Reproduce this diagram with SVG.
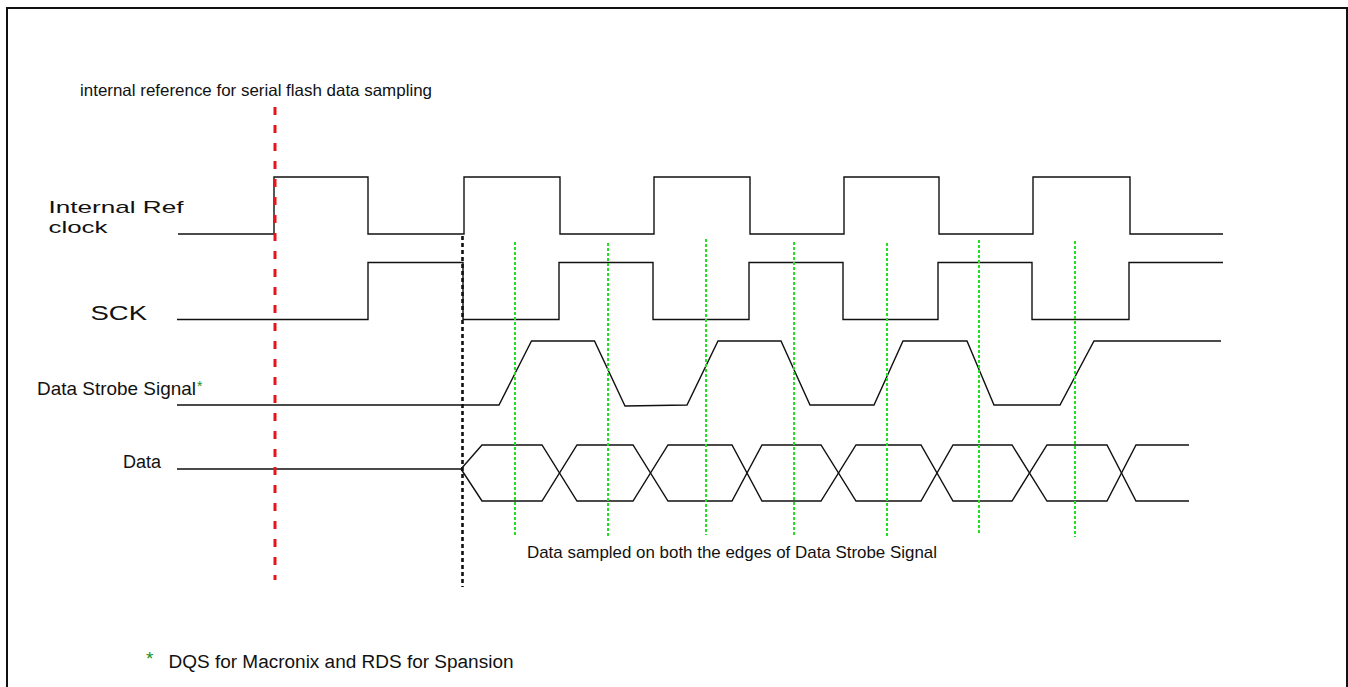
<svg xmlns="http://www.w3.org/2000/svg" width="1348" height="687" viewBox="0 0 1348 687">
<style>
.sig{fill:none;stroke:#111;stroke-width:1.4;stroke-linejoin:miter}
.lbl{font-family:"Liberation Sans",Arial,Helvetica,sans-serif;fill:#111}
.star{font-family:"Liberation Sans",Arial,sans-serif;fill:#1a8f1a}
.green{stroke:#22e022;stroke-width:2;stroke-dasharray:3 2;fill:none}
.red{stroke:#e8141c;stroke-width:3;stroke-dasharray:8 10;fill:none}
.blk{stroke:#111;stroke-width:2.6;stroke-dasharray:4 3;fill:none}
</style>
<rect x="0" y="0" width="1348" height="687" fill="#fff"/>
<rect x="7" y="8" width="1340" height="700" fill="none" stroke="#111" stroke-width="2"/>

<g id="ref-note">
<text class="lbl" x="80" y="96" font-size="16.5" textLength="352" lengthAdjust="spacingAndGlyphs">internal reference for serial flash data sampling</text>
</g>

<g id="internal-ref-clock">
<text class="lbl" x="48.5" y="212.5" font-size="17" textLength="135" lengthAdjust="spacingAndGlyphs">Internal Ref</text>
<text class="lbl" x="48.5" y="232.5" font-size="17" textLength="59" lengthAdjust="spacingAndGlyphs">clock</text>
<path class="sig" d="M178,234 H274 V177 H368 V234 H464 V177 H560 V234 H654 V177 H750 V234 H844 V177 H939 V234 H1033 V177 H1130 V234 H1223"/>
</g>

<g id="sck">
<text class="lbl" x="90.5" y="320" font-size="21" textLength="56.5" lengthAdjust="spacingAndGlyphs">SCK</text>
<path class="sig" d="M177,319.5 H368 V262.5 H463 V319.5 H559 V262.5 H653 V319.5 H749 V262.5 H843 V319.5 H938 V262.5 H1032 V319.5 H1129 V262.5 H1223"/>
</g>

<g id="data-strobe">
<text class="lbl" x="37" y="395" font-size="18.5" textLength="159" lengthAdjust="spacingAndGlyphs">Data Strobe Signal</text>
<text class="star" x="197" y="391" font-size="14">*</text>
<polyline class="sig" points="177,405 499,405 531.5,341 594.5,341 625,406 687,405 718,341 781,341 810,405 874,405 903,341 967,341 994,405 1060,405 1094,341 1221,341"/>
</g>

<g id="data">
<text class="lbl" x="123" y="468" font-size="18">Data</text>
<path class="sig" d="M177,469 H461 L482,445 H542 L577,501 H633 L668,445 H732 L762,501 H821 L856,445 H921 L953,501 H1012 L1047,445 H1107 L1136,501 H1189"/>
<path class="sig" d="M461,469 L482,501 H542 L577,445 H633 L668,501 H732 L762,445 H821 L856,501 H921 L953,445 H1012 L1047,501 H1107 L1136,445 H1189"/>
</g>

<g id="connectors">
<line class="red" x1="275" y1="107" x2="275" y2="580"/>
<line class="blk" x1="462.5" y1="236" x2="462.5" y2="587"/>
<line class="green" x1="515" y1="242" x2="515" y2="537"/>
<line class="green" x1="608" y1="243" x2="608" y2="538"/>
<line class="green" x1="706" y1="239" x2="706" y2="535"/>
<line class="green" x1="794" y1="242" x2="794" y2="537"/>
<line class="green" x1="887" y1="243" x2="887" y2="538"/>
<line class="green" x1="979" y1="240" x2="979" y2="535"/>
<line class="green" x1="1075" y1="241" x2="1075" y2="537"/>
</g>

<g id="sample-note">
<text class="lbl" x="527" y="558" font-size="17" textLength="410" lengthAdjust="spacingAndGlyphs">Data sampled on both the edges of Data Strobe Signal</text>
</g>

<g id="footnote">
<text class="star" x="146" y="665" font-size="19">*</text>
<text class="lbl" x="168.5" y="667.5" font-size="18" textLength="345" lengthAdjust="spacingAndGlyphs">DQS for Macronix and RDS for Spansion</text>
</g>
</svg>
